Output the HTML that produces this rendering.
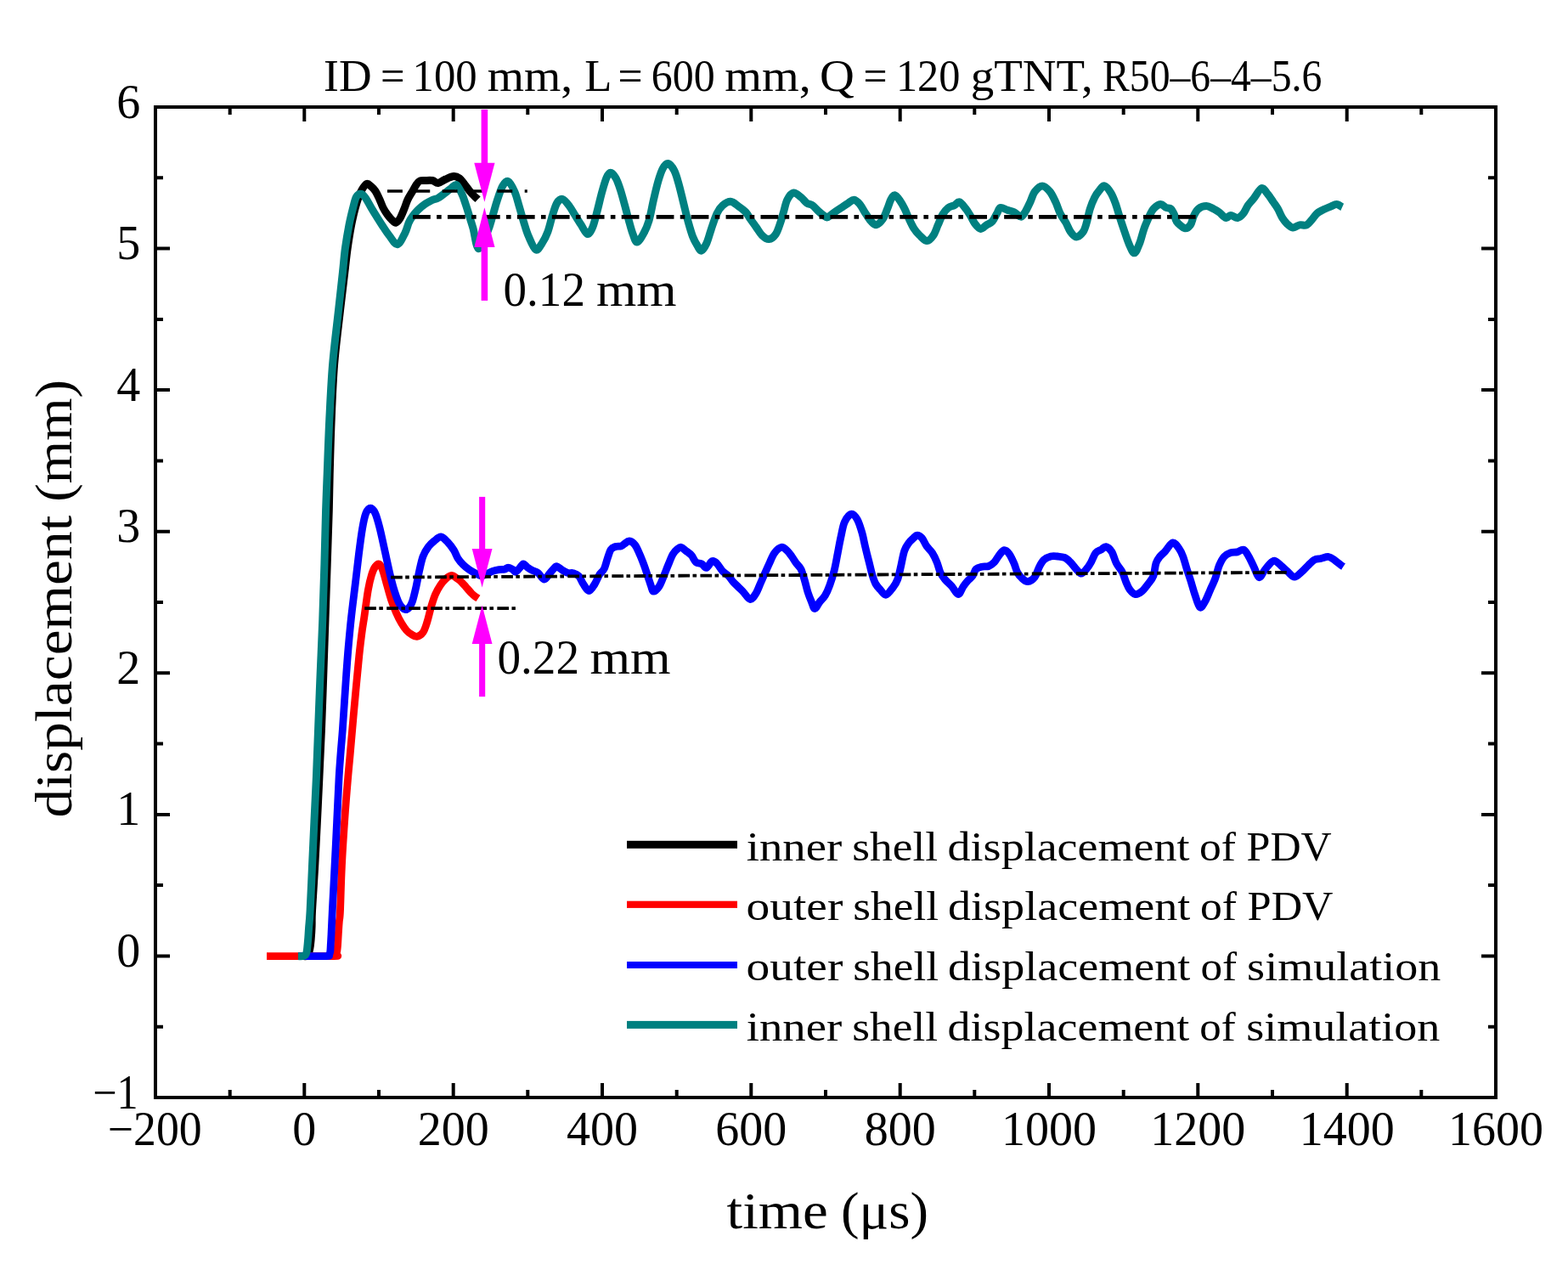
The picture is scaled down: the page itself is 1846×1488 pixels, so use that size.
<!DOCTYPE html>
<html><head><meta charset="utf-8"><title>displacement vs time</title>
<style>html,body{margin:0;padding:0;background:#fff;overflow:hidden;}svg{display:block;}</style>
</head><body>
<svg width="1846" height="1488" viewBox="0 0 1846 1488"><rect x="0" y="0" width="1846" height="1488" fill="#fff"/>
<path d="M270.7,1292.0V1283.0 M270.7,126.0V135.0 M358.3,1292.0V1275.0 M358.3,126.0V143.0 M446.0,1292.0V1283.0 M446.0,126.0V135.0 M533.7,1292.0V1275.0 M533.7,126.0V143.0 M621.3,1292.0V1283.0 M621.3,126.0V135.0 M709.0,1292.0V1275.0 M709.0,126.0V143.0 M796.7,1292.0V1283.0 M796.7,126.0V135.0 M884.3,1292.0V1275.0 M884.3,126.0V143.0 M972.0,1292.0V1283.0 M972.0,126.0V135.0 M1059.7,1292.0V1275.0 M1059.7,126.0V143.0 M1147.3,1292.0V1283.0 M1147.3,126.0V135.0 M1235.0,1292.0V1275.0 M1235.0,126.0V143.0 M1322.7,1292.0V1283.0 M1322.7,126.0V135.0 M1410.3,1292.0V1275.0 M1410.3,126.0V143.0 M1498.0,1292.0V1283.0 M1498.0,126.0V135.0 M1585.7,1292.0V1275.0 M1585.7,126.0V143.0 M1673.3,1292.0V1283.0 M1673.3,126.0V135.0 M183.0,1208.7H192.0 M1761.0,1208.7H1752.0 M183.0,1125.4H200.0 M1761.0,1125.4H1744.0 M183.0,1042.1H192.0 M1761.0,1042.1H1752.0 M183.0,958.9H200.0 M1761.0,958.9H1744.0 M183.0,875.6H192.0 M1761.0,875.6H1752.0 M183.0,792.3H200.0 M1761.0,792.3H1744.0 M183.0,709.0H192.0 M1761.0,709.0H1752.0 M183.0,625.7H200.0 M1761.0,625.7H1744.0 M183.0,542.4H192.0 M1761.0,542.4H1752.0 M183.0,459.1H200.0 M1761.0,459.1H1744.0 M183.0,375.9H192.0 M1761.0,375.9H1752.0 M183.0,292.6H200.0 M1761.0,292.6H1744.0 M183.0,209.3H192.0 M1761.0,209.3H1752.0" stroke="#000" stroke-width="4" fill="none"/>
<g fill="none" stroke-linejoin="round" stroke-linecap="butt">
<path d="M357.0,1125.6 C357.5,1125.6 359.0,1125.9 360.0,1125.6 C361.0,1125.3 362.3,1125.1 363.0,1124.0 C363.7,1122.9 363.9,1120.9 364.3,1119.0 C364.7,1117.1 365.1,1115.1 365.4,1112.8 C365.7,1110.5 365.9,1109.0 366.2,1105.2 C366.5,1101.4 366.9,1095.5 367.1,1090.0 C367.3,1084.5 366.9,1084.0 367.5,1072.3 C368.1,1060.6 369.7,1037.3 370.7,1019.8 C371.7,1002.3 372.5,984.9 373.4,967.4 C374.3,949.9 375.0,933.2 375.9,915.0 C376.8,896.8 377.7,878.2 378.5,858.0 C379.3,837.8 380.1,815.0 380.8,793.5 C381.6,772.0 382.3,750.5 383.0,729.0 C383.7,707.5 384.5,686.0 385.2,664.5 C385.9,643.0 386.8,617.8 387.3,600.0 C387.8,582.2 387.7,575.8 388.2,558.0 C388.7,540.2 389.3,515.0 390.2,493.5 C391.1,472.0 391.9,450.5 393.6,429.0 C395.3,407.5 398.6,382.7 400.6,364.5 C402.7,346.3 404.5,331.9 405.9,320.0 C407.3,308.1 407.8,302.1 409.1,292.9 C410.4,283.7 412.2,272.5 413.7,264.7 C415.2,256.9 416.6,251.3 418.0,245.9 C419.4,240.5 420.7,236.2 422.0,232.5 C423.3,228.8 424.4,226.2 426.0,223.5 C427.6,220.8 429.9,217.1 431.7,216.4 C433.5,215.7 435.3,218.1 437.0,219.5 C438.7,220.9 440.3,222.4 442.0,225.0 C443.7,227.6 445.5,231.8 447.0,235.0 C448.5,238.2 449.5,241.6 451.0,244.5 C452.5,247.4 454.3,250.2 456.0,252.5 C457.7,254.8 459.3,256.9 461.0,258.5 C462.7,260.1 464.3,262.4 466.0,262.2 C467.7,261.9 469.4,259.7 471.0,257.0 C472.6,254.3 474.3,249.7 475.8,246.0 C477.3,242.3 478.4,238.4 480.0,235.0 C481.6,231.6 483.8,228.4 485.5,225.5 C487.2,222.6 488.6,219.6 490.0,217.5 C491.4,215.4 492.4,213.8 494.2,213.0 C496.0,212.2 498.2,212.6 500.7,212.5 C503.2,212.4 506.8,212.0 509.3,212.5 C511.8,213.0 513.3,215.8 515.8,215.5 C518.3,215.2 521.4,212.3 524.5,211.0 C527.6,209.7 531.5,207.8 534.3,207.6 C537.0,207.4 538.9,208.5 541.0,210.0 C543.1,211.5 544.7,214.2 546.8,216.8 C548.9,219.4 551.5,223.2 553.5,225.6 C555.5,228.0 557.1,229.6 558.6,231.1 C560.1,232.6 561.9,234.1 562.5,234.7" stroke="#000" stroke-width="9"/>
<path d="M314.0,1125.6 C326.8,1125.6 377.6,1125.8 391.0,1125.6 C404.4,1125.4 393.6,1125.3 394.5,1124.5 C395.4,1123.7 396.0,1122.9 396.5,1121.0 C397.0,1119.1 397.2,1116.5 397.5,1113.0 C397.8,1109.5 398.0,1104.7 398.3,1100.0 C398.6,1095.3 398.9,1089.6 399.3,1085.0 C399.7,1080.4 400.0,1083.2 400.5,1072.3 C401.0,1061.4 401.5,1037.3 402.4,1019.8 C403.2,1002.3 404.4,984.9 405.6,967.4 C406.8,949.9 408.6,927.9 409.7,915.0 C410.8,902.1 410.8,903.1 412.0,890.0 C413.2,876.9 414.9,856.3 416.7,836.6 C418.5,816.9 421.2,787.3 422.8,772.0 C424.4,756.7 425.0,752.8 426.0,745.0 C427.0,737.2 427.8,733.5 429.0,725.1 C430.2,716.8 431.9,703.0 433.3,694.9 C434.7,686.8 436.1,681.4 437.5,676.8 C438.9,672.2 440.2,669.2 441.7,667.1 C443.2,665.0 445.1,663.3 446.6,664.1 C448.1,664.9 449.3,667.8 450.8,671.9 C452.3,676.0 454.0,683.2 455.6,688.9 C457.2,694.5 458.7,700.4 460.5,705.8 C462.3,711.2 464.5,716.9 466.5,721.5 C468.5,726.1 470.6,730.2 472.6,733.6 C474.6,737.0 476.7,740.0 478.6,742.1 C480.5,744.2 482.0,745.3 484.0,746.5 C486.0,747.7 488.4,749.6 490.7,749.3 C493.0,749.0 496.0,747.3 498.0,744.5 C500.0,741.7 501.2,737.4 502.8,732.4 C504.4,727.4 506.0,719.8 507.6,714.3 C509.2,708.8 510.7,703.9 512.5,699.7 C514.3,695.5 516.5,691.9 518.5,688.9 C520.5,685.9 522.4,683.5 524.6,681.6 C526.8,679.7 529.7,677.6 531.8,677.4 C533.9,677.2 535.4,679.2 537.0,680.2 C538.6,681.2 539.8,681.8 541.7,683.6 C543.6,685.4 546.1,688.3 548.4,690.8 C550.6,693.3 553.4,696.6 555.2,698.5 C557.1,700.4 558.2,701.2 559.5,702.2 C560.8,703.2 562.4,703.9 563.0,704.3" stroke="#ff0000" stroke-width="8.8"/>
<path d="M351.0,1125.6 C356.5,1125.6 377.9,1125.9 384.0,1125.6 C390.1,1125.3 386.7,1124.9 387.5,1124.0 C388.3,1123.1 388.5,1122.0 388.8,1120.0 C389.1,1118.0 389.1,1115.3 389.3,1112.0 C389.5,1108.7 389.7,1106.6 390.0,1100.0 C390.3,1093.4 390.6,1085.7 391.3,1072.3 C392.0,1058.9 393.1,1037.3 394.0,1019.8 C394.9,1002.3 395.8,984.9 396.6,967.4 C397.5,949.9 398.3,928.7 399.1,915.0 C399.9,901.3 400.5,894.5 401.2,885.0 C401.9,875.5 402.3,873.2 403.4,858.0 C404.5,842.8 406.5,809.8 407.7,793.5 C408.9,777.2 409.3,771.1 410.3,760.0 C411.3,748.9 412.2,738.9 413.5,727.0 C414.8,715.1 416.6,701.3 418.1,688.9 C419.6,676.5 421.0,663.7 422.4,652.6 C423.8,641.5 425.2,630.4 426.6,622.3 C428.0,614.2 429.2,608.2 430.8,604.2 C432.4,600.2 434.5,598.2 436.3,598.2 C438.1,598.2 440.0,600.6 441.7,604.2 C443.4,607.8 445.1,614.2 446.6,619.9 C448.1,625.5 449.4,631.9 450.8,638.1 C452.2,644.4 453.6,651.0 455.0,657.4 C456.4,663.8 457.8,670.5 459.3,676.8 C460.8,683.0 462.5,689.7 464.1,694.9 C465.7,700.1 467.5,705.0 468.9,708.2 C470.3,711.4 471.1,712.6 472.5,714.2 C473.9,715.8 475.8,717.6 477.4,717.7 C479.0,717.8 480.6,716.4 482.0,714.8 C483.4,713.2 484.2,711.7 485.5,708.0 C486.8,704.3 488.1,698.5 489.5,692.5 C490.9,686.5 492.3,678.1 493.7,671.9 C495.1,665.6 496.3,659.6 498.0,655.0 C499.7,650.4 501.8,647.1 504.0,644.1 C506.2,641.1 508.8,638.8 511.3,636.8 C513.8,634.8 516.5,631.8 519.1,632.0 C521.7,632.2 524.5,635.5 527.0,638.1 C529.5,640.7 532.3,644.5 534.3,647.7 C536.3,650.9 537.3,654.6 539.1,657.4 C540.9,660.2 542.9,662.5 545.1,664.7 C547.3,666.9 549.8,668.9 552.4,670.7 C555.0,672.5 558.5,674.3 560.9,675.5 C563.3,676.7 564.7,678.0 566.9,678.0 C569.1,678.0 571.9,676.2 574.0,675.3 C576.1,674.4 577.1,673.5 579.4,672.7 C581.6,671.9 585.1,671.1 587.5,670.7 C589.9,670.3 592.2,670.6 594.0,670.2 C595.8,669.8 596.7,668.1 598.3,668.2 C599.9,668.2 602.3,669.6 603.8,670.5 C605.2,671.4 605.6,673.6 607.0,673.3 C608.4,673.0 610.4,670.2 611.9,668.6 C613.4,667.0 614.7,663.9 616.2,663.8 C617.7,663.7 619.4,666.7 621.1,668.0 C622.8,669.3 624.4,670.3 626.5,671.4 C628.6,672.5 631.1,672.7 633.5,674.5 C635.9,676.3 638.3,681.9 640.6,682.0 C642.9,682.1 645.1,677.2 647.1,675.0 C649.1,672.8 651.1,670.2 652.5,668.8 C653.9,667.4 653.9,666.3 655.5,666.7 C657.1,667.1 660.0,670.0 662.3,671.3 C664.6,672.6 667.1,674.0 669.1,674.6 C671.1,675.2 672.5,674.0 674.5,674.6 C676.5,675.2 679.3,675.9 681.3,678.0 C683.3,680.1 684.7,684.6 686.7,687.5 C688.7,690.4 691.1,695.5 693.4,695.5 C695.6,695.5 698.2,690.6 700.2,687.5 C702.2,684.4 703.8,679.6 705.6,676.7 C707.4,673.8 709.5,673.1 711.1,669.9 C712.7,666.7 713.8,661.5 715.1,657.7 C716.5,653.9 717.6,649.3 719.2,646.9 C720.8,644.5 722.6,644.2 724.6,643.5 C726.6,642.8 729.6,643.4 731.4,642.8 C733.2,642.2 733.8,641.1 735.4,640.1 C737.0,639.1 738.8,636.7 740.8,636.9 C742.8,637.1 745.6,638.9 747.6,641.5 C749.6,644.1 751.2,648.2 753.0,652.3 C754.8,656.3 756.8,661.5 758.4,665.8 C760.0,670.1 761.1,673.9 762.5,678.0 C763.9,682.1 765.5,687.2 766.6,690.2 C767.7,693.2 767.7,696.2 769.3,696.2 C770.9,696.2 774.1,693.2 776.1,690.2 C778.1,687.2 779.7,682.3 781.5,678.0 C783.3,673.7 785.1,668.8 786.9,664.5 C788.7,660.2 790.5,655.3 792.3,652.3 C794.1,649.2 796.1,647.5 797.7,646.2 C799.3,644.9 800.2,644.0 801.8,644.3 C803.4,644.6 805.2,646.6 807.2,648.2 C809.2,649.8 812.0,651.4 814.0,653.7 C816.0,656.0 817.4,660.1 819.4,661.8 C821.4,663.5 824.2,662.7 826.2,663.8 C828.2,664.9 829.6,668.9 831.6,668.4 C833.6,667.9 836.4,661.5 838.4,660.6 C840.4,659.7 841.7,661.1 843.8,663.1 C845.9,665.1 848.5,670.1 850.8,672.6 C853.1,675.1 855.6,676.0 857.6,678.0 C859.6,680.0 861.0,682.5 863.0,684.8 C865.0,687.1 867.8,689.6 869.8,691.6 C871.8,693.6 873.0,694.7 875.2,697.0 C877.5,699.3 880.8,705.4 883.3,705.6 C885.8,705.8 888.1,701.5 890.1,698.3 C892.1,695.1 893.7,690.2 895.5,686.2 C897.3,682.2 899.1,678.1 900.9,674.0 C902.7,669.9 904.6,665.6 906.4,661.8 C908.2,657.9 909.5,653.8 911.8,650.9 C914.0,648.0 917.4,644.8 919.9,644.3 C922.4,643.8 924.7,646.4 926.7,648.2 C928.7,650.0 930.3,652.5 932.1,655.0 C933.9,657.5 935.7,660.6 937.5,663.1 C939.3,665.6 941.3,666.7 942.9,669.9 C944.5,673.1 945.6,677.6 947.0,682.1 C948.4,686.6 949.6,692.7 951.0,697.0 C952.4,701.3 953.7,704.5 955.1,707.8 C956.5,711.0 957.6,716.3 959.2,716.5 C960.8,716.7 962.6,711.8 964.6,709.2 C966.6,706.6 969.4,704.4 971.4,701.0 C973.4,697.6 975.0,693.9 976.8,688.9 C978.6,683.9 980.6,677.6 982.2,671.3 C983.8,665.0 984.9,657.7 986.3,650.9 C987.6,644.1 988.9,636.7 990.3,630.6 C991.6,624.5 992.4,618.6 994.4,614.4 C996.4,610.1 1000.0,605.5 1002.5,605.1 C1005.0,604.6 1007.3,608.1 1009.3,611.7 C1011.3,615.3 1013.1,621.2 1014.7,626.6 C1016.3,632.0 1017.4,638.6 1018.8,644.2 C1020.1,649.8 1021.4,655.0 1022.8,660.4 C1024.2,665.8 1025.5,672.2 1026.9,676.7 C1028.3,681.2 1029.4,684.6 1031.0,687.5 C1032.6,690.4 1034.4,692.2 1036.4,694.3 C1038.4,696.4 1040.6,700.7 1043.1,700.2 C1045.6,699.8 1049.0,694.6 1051.3,691.6 C1053.6,688.6 1055.1,686.4 1056.7,682.1 C1058.3,677.8 1059.5,671.4 1060.8,665.8 C1062.1,660.1 1063.2,652.7 1064.8,648.2 C1066.4,643.7 1068.4,641.3 1070.2,638.8 C1072.0,636.3 1074.0,634.8 1075.6,633.3 C1077.2,631.8 1078.1,630.1 1079.7,630.1 C1081.3,630.1 1083.6,631.2 1085.4,633.3 C1087.2,635.4 1088.8,639.9 1090.8,642.8 C1092.8,645.7 1095.6,647.7 1097.6,650.9 C1099.6,654.1 1101.4,657.9 1103.0,661.8 C1104.6,665.6 1105.5,670.6 1107.1,674.0 C1108.7,677.4 1110.2,679.4 1112.5,682.1 C1114.8,684.8 1118.0,687.3 1120.6,690.2 C1123.2,693.1 1125.8,699.5 1128.1,699.5 C1130.4,699.5 1132.3,692.9 1134.2,690.2 C1136.1,687.5 1137.8,685.4 1139.6,683.4 C1141.4,681.4 1143.4,680.2 1145.0,678.0 C1146.6,675.8 1147.3,671.7 1149.1,669.9 C1150.9,668.1 1153.3,667.8 1155.8,667.2 C1158.3,666.6 1161.5,667.4 1164.0,666.5 C1166.5,665.6 1168.7,663.9 1170.7,661.8 C1172.7,659.7 1174.3,656.1 1176.2,653.7 C1178.1,651.4 1180.2,647.9 1182.2,647.7 C1184.2,647.5 1186.4,649.7 1188.3,652.3 C1190.2,654.9 1192.2,659.5 1193.8,663.1 C1195.4,666.7 1196.2,671.1 1197.8,674.0 C1199.4,676.9 1201.2,678.9 1203.2,680.7 C1205.2,682.5 1207.5,684.8 1210.0,684.6 C1212.5,684.4 1215.8,682.3 1218.1,679.4 C1220.4,676.5 1221.8,670.6 1223.6,667.2 C1225.4,663.8 1226.8,661.1 1229.0,659.1 C1231.2,657.1 1234.4,655.7 1237.1,655.0 C1239.8,654.3 1242.5,654.8 1245.2,655.0 C1247.9,655.2 1250.8,655.3 1253.3,656.4 C1255.8,657.5 1257.8,659.5 1260.1,661.8 C1262.4,664.0 1264.8,667.7 1266.9,669.9 C1269.1,672.1 1271.0,675.2 1273.0,675.2 C1275.0,675.2 1277.2,672.1 1279.1,669.9 C1281.0,667.7 1282.7,665.0 1284.5,661.8 C1286.3,658.6 1287.9,653.4 1289.9,650.9 C1291.9,648.4 1294.7,648.1 1296.7,646.9 C1298.7,645.7 1300.1,643.1 1302.1,643.6 C1304.1,644.0 1306.9,646.4 1308.9,649.6 C1310.9,652.9 1312.3,659.2 1314.3,663.1 C1316.3,667.0 1319.0,669.2 1321.0,673.0 C1323.0,676.8 1324.5,682.5 1326.0,686.0 C1327.5,689.5 1328.2,691.7 1330.0,694.0 C1331.8,696.3 1334.3,699.2 1336.7,699.6 C1339.1,700.0 1341.8,698.3 1344.3,696.2 C1346.8,694.1 1349.6,690.1 1351.9,687.1 C1354.2,684.1 1356.4,682.0 1357.9,678.0 C1359.4,674.0 1359.7,666.6 1361.0,662.8 C1362.3,659.0 1363.7,657.5 1365.5,655.2 C1367.3,652.9 1369.1,651.9 1371.6,649.2 C1374.1,646.5 1377.9,639.4 1380.7,638.9 C1383.5,638.4 1386.3,643.4 1388.3,646.1 C1390.3,648.8 1391.3,651.2 1392.8,655.2 C1394.3,659.2 1395.9,665.6 1397.4,670.4 C1398.9,675.2 1400.4,679.2 1401.9,684.0 C1403.4,688.8 1404.7,694.1 1406.5,699.2 C1408.3,704.3 1410.5,713.3 1412.5,714.8 C1414.5,716.3 1416.6,711.6 1418.6,708.3 C1420.6,704.9 1422.7,699.2 1424.7,694.7 C1426.7,690.2 1428.9,685.8 1430.7,681.0 C1432.5,676.2 1433.5,670.1 1435.3,665.8 C1437.1,661.5 1439.0,657.7 1441.3,655.2 C1443.6,652.7 1446.4,651.6 1448.9,650.7 C1451.4,649.8 1454.0,650.5 1456.5,649.9 C1459.0,649.3 1461.8,646.3 1464.1,647.2 C1466.4,648.1 1468.2,651.8 1470.2,655.2 C1472.2,658.6 1474.2,663.3 1476.2,667.4 C1478.2,671.5 1480.3,679.0 1482.3,679.7 C1484.3,680.5 1486.4,674.5 1488.4,671.9 C1490.4,669.3 1492.4,666.3 1494.4,664.3 C1496.4,662.3 1498.2,659.8 1500.5,660.1 C1502.8,660.3 1505.6,663.7 1508.1,665.8 C1510.6,667.9 1513.0,670.5 1515.7,672.7 C1518.4,674.9 1521.2,679.1 1524.0,679.2 C1526.8,679.3 1529.6,675.6 1532.3,673.4 C1535.0,671.2 1537.4,668.2 1539.9,665.8 C1542.4,663.4 1545.0,660.4 1547.5,659.0 C1550.0,657.6 1552.3,658.1 1555.1,657.5 C1557.9,656.9 1561.4,655.1 1564.2,655.5 C1567.0,655.9 1569.3,658.1 1571.8,659.8 C1574.3,661.5 1577.8,664.6 1579.4,665.8 C1581.0,667.0 1581.2,666.8 1581.5,667.0" stroke="#0000ff" stroke-width="8.8"/>
<path d="M351.0,1125.6 C351.8,1125.6 354.6,1125.8 356.0,1125.6 C357.4,1125.4 358.6,1125.1 359.5,1124.2 C360.4,1123.3 360.8,1121.7 361.2,1120.0 C361.6,1118.3 361.6,1116.7 361.9,1114.0 C362.2,1111.3 362.5,1107.7 362.8,1104.0 C363.1,1100.3 363.2,1097.3 363.6,1092.0 C364.0,1086.7 364.5,1084.3 365.1,1072.3 C365.8,1060.3 366.7,1037.3 367.5,1019.8 C368.3,1002.3 369.1,984.9 369.9,967.4 C370.7,949.9 371.6,933.2 372.4,915.0 C373.2,896.8 373.8,878.2 374.6,858.0 C375.4,837.8 376.2,815.0 377.1,793.5 C378.0,772.0 379.0,750.5 379.8,729.0 C380.6,707.5 381.3,686.0 381.9,664.5 C382.5,643.0 383.1,617.8 383.6,600.0 C384.2,582.2 384.5,575.8 385.2,558.0 C385.9,540.2 386.7,515.0 387.8,493.5 C388.9,472.0 389.8,450.5 391.6,429.0 C393.4,407.5 396.6,382.7 398.6,364.5 C400.6,346.3 402.2,331.9 403.5,320.0 C404.8,308.1 405.1,302.1 406.3,292.9 C407.6,283.7 409.5,272.5 411.0,264.7 C412.5,256.9 413.9,251.4 415.3,245.9 C416.7,240.4 417.8,234.6 419.5,231.7 C421.2,228.8 423.7,227.9 425.6,228.3 C427.5,228.7 429.0,231.1 431.0,234.0 C433.0,236.9 434.7,240.8 437.8,245.9 C440.9,251.0 446.2,259.5 449.6,264.7 C453.0,269.9 454.9,273.2 458.0,277.0 C461.1,280.8 464.8,288.1 467.9,287.7 C471.0,287.2 474.6,278.5 476.8,274.3 C479.0,270.1 479.8,265.6 481.2,262.3 C482.6,259.1 483.7,257.3 485.5,254.8 C487.3,252.3 489.5,249.7 492.0,247.2 C494.5,244.7 497.8,242.0 500.7,240.0 C503.6,238.0 506.8,236.5 509.3,235.3 C511.8,234.2 513.4,234.4 515.8,233.1 C518.1,231.8 520.9,229.6 523.4,227.7 C525.9,225.8 528.6,223.3 531.0,221.7 C533.4,220.0 535.3,216.6 537.5,217.8 C539.7,219.0 542.2,225.0 544.0,228.8 C545.8,232.6 546.8,236.4 548.3,240.7 C549.8,245.0 551.2,250.1 552.7,254.8 C554.2,259.5 555.2,262.5 557.0,268.8 C558.8,275.1 560.6,292.3 563.5,292.8 C566.4,293.3 571.6,278.3 574.3,272.0 C577.0,265.7 578.0,260.8 579.8,254.8 C581.6,248.9 583.2,242.3 585.2,236.3 C587.2,230.3 589.5,222.8 591.7,219.0 C593.9,215.2 595.9,212.4 598.2,213.5 C600.6,214.6 603.6,220.6 605.8,225.5 C608.0,230.4 609.4,236.8 611.2,242.8 C613.0,248.8 614.8,255.5 616.6,261.3 C618.4,267.1 619.6,272.1 622.0,277.5 C624.4,282.9 628.0,292.4 630.7,293.9 C633.4,295.4 635.7,290.0 638.1,286.5 C640.5,283.0 642.9,278.3 644.9,272.9 C646.9,267.5 648.5,259.6 650.3,254.0 C652.1,248.3 653.7,242.2 655.7,239.0 C657.7,235.8 660.0,233.8 662.5,234.5 C665.0,235.2 668.1,239.8 670.6,243.1 C673.1,246.3 675.1,250.4 677.4,254.0 C679.7,257.6 681.8,261.2 684.2,264.8 C686.6,268.4 689.4,275.1 691.6,275.5 C693.9,275.9 695.8,272.0 697.7,267.5 C699.6,263.0 701.3,255.3 703.1,248.5 C704.9,241.7 706.7,233.4 708.5,226.9 C710.3,220.4 712.3,213.2 714.0,209.3 C715.7,205.4 716.9,203.3 718.7,203.3 C720.5,203.3 722.9,206.1 724.8,209.3 C726.7,212.6 728.4,217.4 730.2,222.8 C732.0,228.2 733.8,235.2 735.6,241.8 C737.4,248.4 739.4,256.5 741.0,262.1 C742.6,267.7 743.6,271.8 745.1,275.6 C746.6,279.4 747.9,285.0 749.9,285.0 C751.9,285.0 754.9,279.9 757.3,275.6 C759.7,271.3 762.1,266.2 764.1,259.4 C766.1,252.6 767.7,242.7 769.5,235.0 C771.3,227.3 773.1,219.4 774.9,213.3 C776.7,207.2 778.4,201.9 780.3,198.4 C782.2,194.9 784.1,192.1 786.4,192.5 C788.7,192.9 791.8,196.9 793.9,201.1 C796.0,205.2 797.5,211.1 799.3,217.4 C801.1,223.7 802.9,231.9 804.7,239.1 C806.5,246.3 808.3,254.2 810.1,260.7 C811.9,267.2 813.7,273.6 815.5,278.3 C817.3,283.1 819.3,286.4 821.0,289.2 C822.7,292.0 823.9,295.5 825.7,295.1 C827.5,294.6 829.9,290.6 831.8,286.5 C833.7,282.4 835.2,276.1 837.2,270.2 C839.2,264.3 841.8,256.0 844.0,251.3 C846.2,246.6 848.0,244.2 850.7,241.8 C853.4,239.5 857.0,237.0 860.2,237.2 C863.4,237.4 866.7,241.0 869.7,243.1 C872.7,245.2 875.8,247.4 878.1,249.9 C880.4,252.4 881.5,255.1 883.5,258.0 C885.5,260.9 888.0,264.3 890.3,267.5 C892.6,270.7 894.6,274.6 897.1,277.0 C899.6,279.4 902.5,281.8 905.2,281.6 C907.9,281.4 911.0,278.9 913.3,275.6 C915.6,272.4 917.2,266.6 918.8,262.1 C920.4,257.6 921.4,253.0 922.8,248.5 C924.1,244.0 925.0,238.6 926.9,235.0 C928.8,231.4 931.6,227.4 934.3,227.0 C937.0,226.6 940.5,230.3 943.1,232.3 C945.7,234.3 947.6,237.5 949.9,239.1 C952.2,240.7 954.5,240.2 956.7,241.8 C959.0,243.4 961.1,246.5 963.4,248.5 C965.6,250.5 968.4,252.8 970.2,254.0 C972.0,255.2 972.3,256.5 974.3,255.8 C976.3,255.1 979.7,251.8 982.4,249.9 C985.1,248.0 987.8,246.3 990.5,244.5 C993.2,242.7 996.2,240.6 998.7,239.1 C1001.2,237.6 1003.1,235.0 1005.4,235.2 C1007.6,235.4 1009.9,237.7 1012.2,240.4 C1014.5,243.1 1016.8,247.9 1019.0,251.3 C1021.2,254.7 1023.6,258.5 1025.7,260.7 C1027.8,262.9 1029.5,265.0 1031.8,264.6 C1034.1,264.1 1037.1,261.1 1039.3,258.0 C1041.5,254.9 1043.1,249.6 1044.7,245.8 C1046.3,242.0 1047.3,237.7 1048.8,235.0 C1050.3,232.3 1051.7,229.5 1053.5,229.7 C1055.3,229.9 1057.7,233.7 1059.6,236.4 C1061.5,239.1 1063.2,242.2 1065.0,245.8 C1066.8,249.4 1068.6,254.2 1070.4,258.0 C1072.2,261.9 1073.9,265.7 1075.9,268.9 C1077.9,272.1 1080.0,274.6 1082.6,277.0 C1085.2,279.4 1088.7,283.6 1091.4,283.6 C1094.1,283.6 1096.8,280.1 1098.9,277.0 C1101.1,273.9 1102.5,268.9 1104.3,264.8 C1106.1,260.7 1107.7,256.0 1109.7,252.6 C1111.7,249.2 1114.2,246.3 1116.5,244.5 C1118.8,242.7 1121.3,242.9 1123.5,241.8 C1125.7,240.7 1127.3,237.2 1129.6,237.9 C1131.9,238.6 1134.9,243.1 1137.1,245.8 C1139.2,248.5 1140.7,251.1 1142.5,254.0 C1144.3,256.9 1145.9,260.8 1147.9,263.4 C1149.9,266.0 1152.4,269.2 1154.7,269.4 C1157.0,269.6 1159.2,266.2 1161.5,264.8 C1163.8,263.4 1166.2,262.9 1168.2,260.7 C1170.2,258.4 1172.1,254.0 1173.7,251.3 C1175.3,248.6 1175.7,245.3 1177.7,244.6 C1179.7,243.9 1183.1,246.3 1185.8,247.2 C1188.5,248.1 1191.3,248.6 1194.0,249.9 C1196.7,251.2 1199.8,255.4 1202.1,255.2 C1204.3,255.0 1205.7,251.4 1207.5,248.5 C1209.3,245.6 1211.1,241.5 1212.9,237.7 C1214.7,233.9 1215.9,228.6 1218.3,225.5 C1220.7,222.4 1224.1,218.9 1227.1,218.9 C1230.0,218.9 1233.4,222.4 1236.0,225.5 C1238.6,228.6 1240.7,233.4 1242.7,237.7 C1244.7,242.0 1246.1,247.2 1248.1,251.3 C1250.1,255.4 1252.9,258.5 1254.9,262.1 C1256.9,265.7 1258.3,270.1 1260.3,272.9 C1262.3,275.7 1264.6,278.9 1267.1,278.9 C1269.6,278.9 1273.2,275.7 1275.2,272.9 C1277.2,270.1 1278.0,266.6 1279.3,262.1 C1280.6,257.6 1281.7,250.8 1283.3,245.8 C1284.9,240.8 1287.0,235.9 1288.8,232.3 C1290.6,228.7 1292.3,226.4 1294.2,224.2 C1296.1,222.0 1298.0,218.4 1300.3,218.9 C1302.5,219.4 1305.6,223.5 1307.7,226.9 C1309.8,230.3 1311.3,234.1 1313.1,239.1 C1314.9,244.1 1316.8,251.1 1318.6,256.7 C1320.4,262.3 1322.2,267.7 1324.0,272.9 C1325.8,278.1 1327.5,283.6 1329.4,287.8 C1331.3,292.0 1333.5,298.0 1335.5,297.8 C1337.5,297.6 1339.7,291.3 1341.6,286.5 C1343.5,281.7 1345.0,274.5 1347.0,268.9 C1349.0,263.3 1352.0,256.9 1353.8,253.0 C1355.6,249.2 1356.0,247.9 1358.1,245.8 C1360.2,243.7 1363.8,240.8 1366.3,240.6 C1368.8,240.4 1371.0,243.6 1373.0,244.5 C1375.0,245.4 1376.8,244.5 1378.4,245.8 C1380.0,247.2 1381.4,250.1 1382.5,252.6 C1383.6,255.1 1383.2,258.0 1385.2,260.7 C1387.2,263.4 1392.0,268.0 1394.7,268.7 C1397.4,269.4 1399.7,267.2 1401.5,264.8 C1403.3,262.4 1403.9,257.2 1405.5,254.0 C1407.1,250.8 1408.4,247.7 1410.9,245.8 C1413.4,243.9 1417.5,242.6 1420.4,242.6 C1423.3,242.6 1426.0,244.6 1428.5,245.8 C1431.0,247.0 1432.8,248.1 1435.3,249.9 C1437.8,251.7 1441.1,255.9 1443.4,256.5 C1445.7,257.1 1446.6,253.4 1448.9,253.4 C1451.2,253.4 1454.5,256.9 1457.0,256.5 C1459.5,256.1 1461.8,253.8 1463.8,251.3 C1465.8,248.9 1467.2,244.7 1469.2,241.8 C1471.2,238.9 1473.2,237.1 1475.9,233.7 C1478.6,230.3 1482.7,222.5 1485.4,221.6 C1488.1,220.7 1489.9,225.5 1492.2,228.2 C1494.5,230.9 1497.0,234.8 1499.0,237.7 C1501.0,240.6 1502.6,242.6 1504.4,245.8 C1506.2,249.0 1508.0,253.8 1509.8,256.7 C1511.6,259.6 1513.2,261.5 1515.2,263.4 C1517.2,265.3 1519.5,267.8 1522.0,268.0 C1524.5,268.2 1527.4,265.3 1530.1,264.8 C1532.8,264.3 1535.7,265.9 1538.2,264.8 C1540.7,263.7 1543.0,260.2 1545.0,258.0 C1547.0,255.8 1548.4,253.1 1550.4,251.3 C1552.4,249.5 1554.5,248.6 1557.2,247.2 C1559.9,245.8 1564.0,244.2 1566.7,243.1 C1569.4,242.0 1571.2,240.5 1573.5,240.6 C1575.8,240.7 1579.1,243.3 1580.2,243.8" stroke="#008080" stroke-width="9"/>
</g>
<g fill="none" stroke="#000" stroke-linecap="butt">
<path d="M456,225H620.8" stroke-width="3.7" stroke-dasharray="17.9 14.44"/>
<path d="M486,255.4H1408.2" stroke-width="4.9" stroke-dasharray="20.8 7.3 5.6 7.25"/>
<path d="M460.1,679.6L1514.9,673.9" stroke-width="3.8" stroke-dasharray="13.7 3.4 4.6 4.325"/>
<path d="M429.2,716.1H606.9" stroke-width="3.8" stroke-dasharray="13.7 3.4 4.6 4.325"/>
</g>
<rect x="183.0" y="126.0" width="1578.0" height="1166.0" fill="none" stroke="#000" stroke-width="4"/>
<g fill="#ff00ff">
<rect x="566.6" y="128.9" width="7.6" height="63.4"/><polygon points="558.3,191.8 582.5,191.8 570.4,237.7"/>
<rect x="566.6" y="290.5" width="7.6" height="63.4"/><polygon points="558.3,291.0 582.5,291.0 570.4,244.2"/>
<rect x="564.1" y="584.9" width="7.1" height="61.7"/><polygon points="555.7,646.1 579.5,646.1 567.6,691.6"/>
<rect x="564.1" y="757.5" width="7.1" height="62.6"/><polygon points="555.7,758.0 579.5,758.0 567.6,712.6"/>
</g>
<g font-family="'Liberation Serif', 'Times New Roman', serif" fill="#000">
<text x="162.7" y="1304.5" font-size="56.0" text-anchor="end" textLength="53.4" lengthAdjust="spacingAndGlyphs">−1</text>
<text x="165.2" y="1137.9" font-size="56.0" text-anchor="end">0</text>
<text x="165.2" y="971.4" font-size="56.0" text-anchor="end">1</text>
<text x="165.2" y="804.8" font-size="56.0" text-anchor="end">2</text>
<text x="165.2" y="638.2" font-size="56.0" text-anchor="end">3</text>
<text x="165.2" y="471.6" font-size="56.0" text-anchor="end">4</text>
<text x="165.2" y="305.1" font-size="56.0" text-anchor="end">5</text>
<text x="165.2" y="138.5" font-size="56.0" text-anchor="end">6</text>
<text x="182.2" y="1348.0" font-size="56.0" text-anchor="middle" textLength="110.8" lengthAdjust="spacingAndGlyphs">−200</text>
<text x="358.3" y="1348.0" font-size="56.0" text-anchor="middle">0</text>
<text x="533.7" y="1348.0" font-size="56.0" text-anchor="middle">200</text>
<text x="709.0" y="1348.0" font-size="56.0" text-anchor="middle">400</text>
<text x="884.3" y="1348.0" font-size="56.0" text-anchor="middle">600</text>
<text x="1059.7" y="1348.0" font-size="56.0" text-anchor="middle">800</text>
<text x="1235.0" y="1348.0" font-size="56.0" text-anchor="middle">1000</text>
<text x="1410.3" y="1348.0" font-size="56.0" text-anchor="middle">1200</text>
<text x="1585.7" y="1348.0" font-size="56.0" text-anchor="middle">1400</text>
<text x="1761.0" y="1348.0" font-size="56.0" text-anchor="middle">1600</text>
<text y="107" font-size="52"><tspan x="381.1" textLength="56.5" lengthAdjust="spacingAndGlyphs">ID</tspan> <tspan x="448.1" textLength="28.5" lengthAdjust="spacingAndGlyphs">=</tspan> <tspan x="485.6" textLength="76.1" lengthAdjust="spacingAndGlyphs">100</tspan> <tspan x="573.7" textLength="100.4" lengthAdjust="spacingAndGlyphs">mm,</tspan> <tspan x="688.3" textLength="30.2" lengthAdjust="spacingAndGlyphs">L</tspan> <tspan x="727.6" textLength="29.1" lengthAdjust="spacingAndGlyphs">=</tspan> <tspan x="766.8" textLength="74.9" lengthAdjust="spacingAndGlyphs">600</tspan> <tspan x="853.3" textLength="101.4" lengthAdjust="spacingAndGlyphs">mm,</tspan> <tspan x="965.1" textLength="40.9" lengthAdjust="spacingAndGlyphs">Q</tspan> <tspan x="1016.4" textLength="28.0" lengthAdjust="spacingAndGlyphs">=</tspan> <tspan x="1054.9" textLength="75.5" lengthAdjust="spacingAndGlyphs">120</tspan> <tspan x="1142.8" textLength="143.9" lengthAdjust="spacingAndGlyphs">gTNT,</tspan> <tspan x="1298.0" textLength="258.3" lengthAdjust="spacingAndGlyphs">R50–6–4–5.6</tspan></text>
<text y="359.8" font-size="56.0"><tspan x="592.6" textLength="96.3" lengthAdjust="spacingAndGlyphs">0.12</tspan> <tspan x="702.0" textLength="94.5" lengthAdjust="spacingAndGlyphs">mm</tspan></text>
<text y="793.0" font-size="56.0"><tspan x="585.4" textLength="96.6" lengthAdjust="spacingAndGlyphs">0.22</tspan> <tspan x="694.6" textLength="95.0" lengthAdjust="spacingAndGlyphs">mm</tspan></text>
<text y="1446.0" font-size="62.0"><tspan x="855.5" textLength="119.2" lengthAdjust="spacingAndGlyphs">time</tspan> <tspan x="990.0" textLength="103.0" lengthAdjust="spacingAndGlyphs">(μs)</tspan></text>
<text y="0" font-size="62.0" transform="translate(83.8,960) rotate(-90)"><tspan x="-2.4" textLength="355.9" lengthAdjust="spacingAndGlyphs">displacement</tspan> <tspan x="369.2" textLength="143.9" lengthAdjust="spacingAndGlyphs">(mm)</tspan></text>
<text y="1013.2" font-size="49.0"><tspan x="878.7" textLength="112.6" lengthAdjust="spacingAndGlyphs">inner</tspan> <tspan x="1003.3" textLength="100.8" lengthAdjust="spacingAndGlyphs">shell</tspan> <tspan x="1115.6" textLength="285.0" lengthAdjust="spacingAndGlyphs">displacement</tspan> <tspan x="1412.0" textLength="42.9" lengthAdjust="spacingAndGlyphs">of</tspan> <tspan x="1467.6" textLength="100.1" lengthAdjust="spacingAndGlyphs">PDV</tspan></text>
<text y="1083.0" font-size="49.0"><tspan x="878.5" textLength="113.9" lengthAdjust="spacingAndGlyphs">outer</tspan> <tspan x="1004.3" textLength="100.8" lengthAdjust="spacingAndGlyphs">shell</tspan> <tspan x="1116.0" textLength="285.3" lengthAdjust="spacingAndGlyphs">displacement</tspan> <tspan x="1413.0" textLength="43.0" lengthAdjust="spacingAndGlyphs">of</tspan> <tspan x="1468.6" textLength="100.9" lengthAdjust="spacingAndGlyphs">PDV</tspan></text>
<text y="1154.3" font-size="49.0"><tspan x="878.5" textLength="113.9" lengthAdjust="spacingAndGlyphs">outer</tspan> <tspan x="1004.3" textLength="100.8" lengthAdjust="spacingAndGlyphs">shell</tspan> <tspan x="1116.0" textLength="285.4" lengthAdjust="spacingAndGlyphs">displacement</tspan> <tspan x="1413.4" textLength="42.6" lengthAdjust="spacingAndGlyphs">of</tspan> <tspan x="1468.1" textLength="228.2" lengthAdjust="spacingAndGlyphs">simulation</tspan></text>
<text y="1225.1" font-size="49.0"><tspan x="878.7" textLength="112.6" lengthAdjust="spacingAndGlyphs">inner</tspan> <tspan x="1003.3" textLength="100.8" lengthAdjust="spacingAndGlyphs">shell</tspan> <tspan x="1115.6" textLength="284.7" lengthAdjust="spacingAndGlyphs">displacement</tspan> <tspan x="1412.3" textLength="42.4" lengthAdjust="spacingAndGlyphs">of</tspan> <tspan x="1467.2" textLength="228.2" lengthAdjust="spacingAndGlyphs">simulation</tspan></text>
</g>
<rect x="738" y="989.8" width="130" height="9.0" fill="#000"/>
<rect x="738" y="1060.7" width="130" height="8.2" fill="#ff0000"/>
<rect x="738" y="1132.0" width="130" height="8.0" fill="#0000ff"/>
<rect x="738" y="1201.9" width="130" height="9.0" fill="#008080"/></svg>
</body></html>
